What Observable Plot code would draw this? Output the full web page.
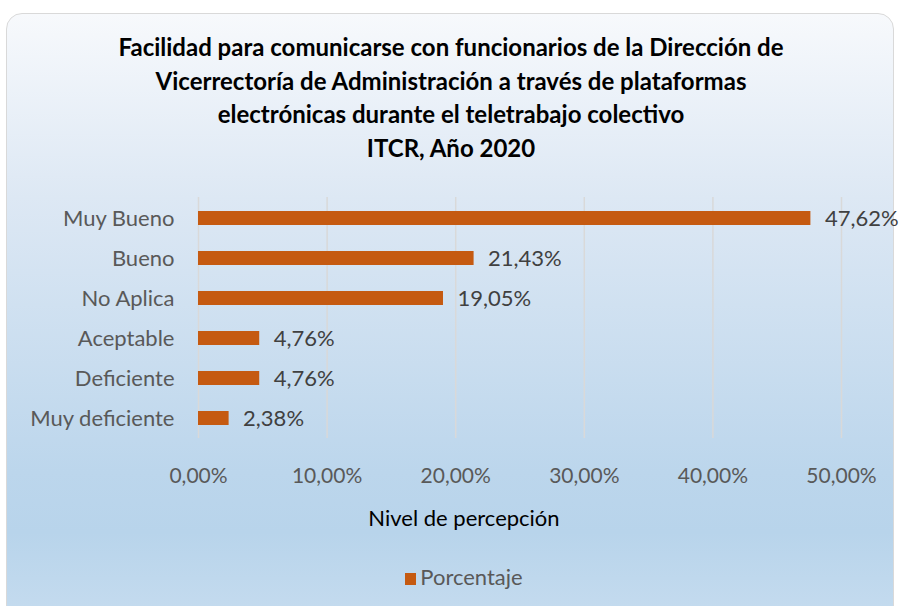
<!DOCTYPE html>
<html>
<head>
<meta charset="utf-8">
<script src="https://cdn.jsdelivr.net/npm/d3@7"></script>
<script src="https://cdn.jsdelivr.net/npm/@observablehq/plot@0.6"></script>
<style>
  html, body { margin: 0; padding: 0; width: 902px; height: 606px; overflow: hidden; background: #ffffff; font-family: Lato, "Open Sans", sans-serif; }
  #panel { position: absolute; left: 6px; top: 13px; width: 886px; height: 610px; border: 1px solid #d9d9d9; border-radius: 16px;
    background: linear-gradient(to bottom, #f7f9fc 0%, #dde8f4 30%, #bcd6ec 75%, #b8d4eb 85%, #c6dcef 100%); }
  #title { position: absolute; left: 0; top: 30px; width: 902px; text-align: center; font-weight: bold; font-size: 24px; line-height: 33.7px; color: #000; }
  #chart { position: absolute; left: 0; top: 180px; }
  #xlabel { position: absolute; left: 314px; width: 300px; top: 506px; line-height: 24px; text-align: center; font-size: 22px; color: #000; }
  #legend { position: absolute; left: 314px; width: 300px; top: 565px; line-height: 24px; text-align: center; font-size: 22px; color: #595959; }
  #legend span.sw { display: inline-block; width: 11px; height: 12px; background: #C55A11; margin-right: 4px; vertical-align: 0px; }
</style>
</head>
<body>
<div id="panel"></div>
<div id="title">Facilidad para comunicarse con funcionarios de la Dirección de<br>Vicerrectoría de Administración a través de plataformas<br>electrónicas durante el teletrabajo colectivo<br>ITCR, Año 2020</div>
<div id="chart"></div>
<div id="xlabel">Nivel de percepción</div>
<div id="legend"><span class="sw"></span>Porcentaje</div>
<script>
const categories = ["Muy Bueno", "Bueno", "No Aplica", "Aceptable", "Deficiente", "Muy deficiente"];
const values = [47.62, 21.43, 19.05, 4.76, 4.76, 2.38];
const xTicks = [0, 10, 20, 30, 40, 50];
const seriesName = "Porcentaje";

const data = categories.map((c, i) => ({category: c, value: values[i]}));
const fmt = v => v.toFixed(2).replace(".", ",") + "%";

const chart = Plot.plot({
  width: 902,
  height: 320,
  marginLeft: 198,
  marginRight: 61,
  marginTop: 17,
  marginBottom: 62,
  style: { background: "transparent", fontFamily: "Lato, 'Open Sans', sans-serif", fontSize: "21px", color: "#595959", overflow: "visible" },
  x: { domain: [0, 50], ticks: xTicks, tickFormat: fmt, tickSize: 0, tickPadding: 30, label: null, fontSize: 21 },
  y: { domain: categories, paddingInner: 0.65, paddingOuter: 0.325, tickSize: 0, tickPadding: 24, label: null },
  marks: [
    Plot.ruleX(xTicks, { stroke: "#d9d9d9", strokeWidth: 1.5 }),
    Plot.barX(data, { x: "value", y: "category", fill: "#C55A11" }),
    Plot.axisY({ tickSize: 0, tickPadding: 24, fontSize: 22, label: null }),
    Plot.text(data, { x: "value", y: "category", text: d => fmt(d.value), dx: 14, textAnchor: "start", fill: "#404040", fontSize: 22 })
  ]
});
document.getElementById("chart").appendChild(chart);
</script>
</body>
</html>
